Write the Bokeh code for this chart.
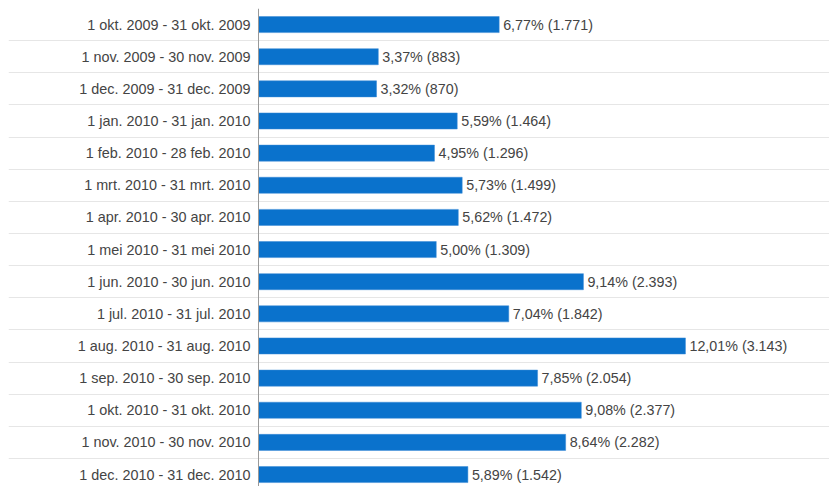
from bokeh.plotting import figure
from bokeh.models import Range1d, FixedTicker, LabelSet, ColumnDataSource
from bokeh.core.properties import value
from bokeh.embed import file_html
from bokeh.resources import INLINE

periods = [
    "1 okt. 2009 - 31 okt. 2009",
    "1 nov. 2009 - 30 nov. 2009",
    "1 dec. 2009 - 31 dec. 2009",
    "1 jan. 2010 - 31 jan. 2010",
    "1 feb. 2010 - 28 feb. 2010",
    "1 mrt. 2010 - 31 mrt. 2010",
    "1 apr. 2010 - 30 apr. 2010",
    "1 mei 2010 - 31 mei 2010",
    "1 jun. 2010 - 30 jun. 2010",
    "1 jul. 2010 - 31 jul. 2010",
    "1 aug. 2010 - 31 aug. 2010",
    "1 sep. 2010 - 30 sep. 2010",
    "1 okt. 2010 - 31 okt. 2010",
    "1 nov. 2010 - 30 nov. 2010",
    "1 dec. 2010 - 31 dec. 2010",
]
pct = [6.77, 3.37, 3.32, 5.59, 4.95, 5.73, 5.62, 5.00, 9.14, 7.04, 12.01, 7.85, 9.08, 8.64, 5.89]
visits = [1771, 883, 870, 1464, 1296, 1499, 1472, 1309, 2393, 1842, 3143, 2054, 2377, 2282, 1542]

idx = list(range(len(periods)))
labels = [
    f"{p:.2f}".replace(".", ",") + "% (" + f"{v:,}".replace(",", ".") + ")"
    for p, v in zip(pct, visits)
]
src = ColumnDataSource(dict(idx=idx, pct=pct, label=labels, period=periods))

W, H = 829, 486
MB = 8
FW, FH = W - MB, H - MB
px_per_unit = 35.55
left_px = 250
row_px = 32.14

p = figure(
    width=W, height=H, output_backend="svg", toolbar_location=None,
    x_range=Range1d(-left_px / px_per_unit, (FW - left_px) / px_per_unit),
    y_range=Range1d(-0.5 + FH / row_px, -0.5),
    min_border=0, min_border_left=MB, min_border_right=0,
    min_border_top=MB, min_border_bottom=0,
)
p.outline_line_color = None
p.background_fill_color = "white"
p.border_fill_color = "white"

p.hbar(y="idx", left=0, right="pct", height=0.5, source=src,
       fill_color="#0a72cc", line_color="#3b8ad6", line_width=0.5)

p.add_layout(LabelSet(x="pct", y="idx", text="label", source=src,
                      x_offset=4, text_baseline="middle", text_align="left",
                      text_font=value("Liberation Sans"), text_font_size="14.3px",
                      text_color="#444444"))

p.xaxis.visible = False
p.xgrid.visible = False
p.ygrid.ticker = FixedTicker(ticks=[i - 0.5 for i in range(len(periods) + 1)])
p.ygrid.grid_line_color = "#e6e6e6"
p.ygrid.grid_line_width = 1

ya = p.yaxis[0]
ya.fixed_location = 0
ya.ticker = FixedTicker(ticks=idx)
ya.major_label_overrides = {i: s for i, s in zip(idx, periods)}
ya.major_tick_line_color = None
ya.minor_tick_line_color = None
ya.axis_line_color = "#999999"
ya.major_label_standoff = 2
ya.major_label_text_font = "Liberation Sans"
ya.major_label_text_font_size = "14.4px"
ya.major_label_text_color = "#444444"

open("out.html", "w").write(file_html(p, INLINE))
